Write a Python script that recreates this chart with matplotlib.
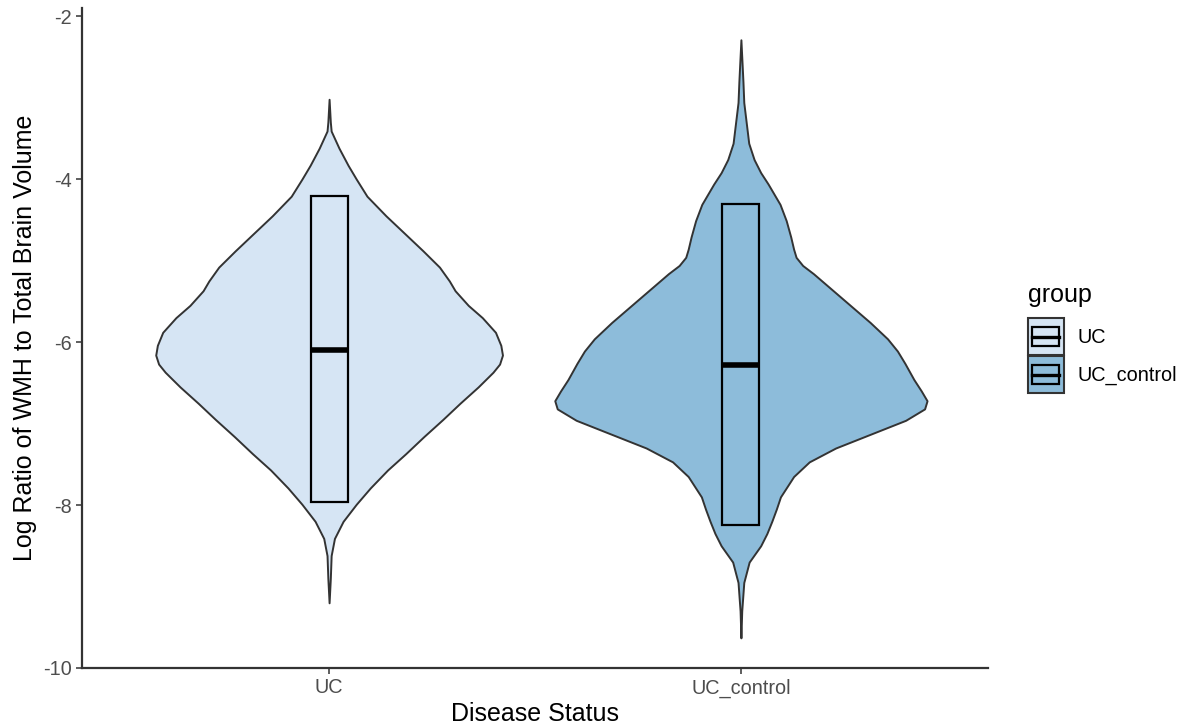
import numpy as np
import matplotlib
matplotlib.use('Agg')
import matplotlib.pyplot as plt
from matplotlib.patches import Rectangle, Patch
from matplotlib.lines import Line2D
from matplotlib.legend_handler import HandlerBase

plt.rcParams['font.family'] = ['Liberation Sans', 'DejaVu Sans']
plt.rcParams['axes.unicode_minus'] = False

groups = ['UC', 'UC_control']
fills = ['#D6E5F4', '#8DBCDA']

# violin outline: value and half-width (x units)
uc_y = [-3.02, -3.30, -3.41, -3.62, -3.83, -4.00, -4.21, -4.45, -4.66, -4.88, -5.08,
        -5.25, -5.37, -5.55, -5.70, -5.88, -6.04, -6.16, -6.27, -6.37, -6.55,
        -6.75, -6.95, -7.16, -7.37, -7.57, -7.79, -7.99, -8.20, -8.41, -8.62, -8.90, -9.20]
uc_w = [0.0, 0.003, 0.005, 0.024, 0.046, 0.066, 0.092, 0.138, 0.182, 0.228, 0.268,
        0.292, 0.306, 0.338, 0.372, 0.404, 0.417, 0.421, 0.414, 0.398, 0.362,
        0.318, 0.276, 0.230, 0.186, 0.142, 0.100, 0.066, 0.034, 0.013, 0.005, 0.003, 0.0]

ctl_y = [-2.29, -2.60, -2.81, -3.06, -3.31, -3.56, -3.76, -3.92, -4.06, -4.31, -4.51,
         -4.71, -4.86, -4.96, -5.06, -5.16, -5.36, -5.56, -5.76, -5.96, -6.11,
         -6.26, -6.46, -6.60, -6.72, -6.82, -6.96, -7.12, -7.30, -7.47, -7.65,
         -7.90, -8.05, -8.20, -8.35, -8.50, -8.70, -8.95, -9.30, -9.63]
ctl_w = [0.0, 0.003, 0.005, 0.007, 0.013, 0.019, 0.032, 0.048, 0.066, 0.095, 0.110,
         0.121, 0.128, 0.134, 0.150, 0.176, 0.222, 0.268, 0.314, 0.356, 0.380,
         0.398, 0.420, 0.438, 0.452, 0.446, 0.400, 0.320, 0.230, 0.166, 0.128,
         0.096, 0.086, 0.075, 0.063, 0.048, 0.020, 0.007, 0.002, 0.0]

box_low = [-7.96, -8.25]
box_mid = [-6.10, -6.28]
box_high = [-4.21, -4.30]

violin_y = [uc_y, ctl_y]
violin_w = [uc_w, ctl_w]

fig = plt.figure(figsize=(11.85, 7.27), dpi=100)
ax = fig.add_axes([82/1185, 59/727, 906/1185, 660/727])

for i in range(len(groups)):
    x = i + 1
    y = np.array(violin_y[i])
    w = np.array(violin_w[i])
    ax.fill_betweenx(y, x - w, x + w, facecolor=fills[i], edgecolor='#333333',
                     linewidth=1.4, zorder=2)
    bw = 0.045
    ax.add_patch(Rectangle((x - bw, box_low[i]), 2*bw, box_high[i] - box_low[i],
                           facecolor='none', edgecolor='black', linewidth=1.6, zorder=3))
    ax.plot([x - bw, x + bw], [box_mid[i], box_mid[i]], color='black', linewidth=4,
            solid_capstyle='butt', zorder=4)

ax.set_xlim(0.4, 2.6)
ax.set_ylim(-10.0, -1.9)
ax.set_xticks([1, 2])
ax.set_xticklabels(groups)
ax.set_yticks([-10, -8, -6, -4, -2])
ax.tick_params(axis='both', colors='#333333', labelcolor='#4D4D4D', labelsize=14.3,
               length=4, width=1.1)
for s in ['top', 'right']:
    ax.spines[s].set_visible(False)
for s in ['left', 'bottom']:
    ax.spines[s].set_linewidth(1.6)
    ax.spines[s].set_color('#333333')
ax.set_xlabel('Disease Status', fontsize=18, labelpad=3)
ax.set_ylabel('Log Ratio of WMH to Total Brain Volume', fontsize=18, labelpad=4)


class KeyHandler(HandlerBase):
    def create_artists(self, legend, orig_handle, xdescent, ydescent, width, height,
                       fontsize, trans):
        x0, y0 = -xdescent, -ydescent
        h = height
        outer = Rectangle((x0, y0), width, h, facecolor=orig_handle.get_facecolor(),
                          edgecolor='#333333', linewidth=1.5, transform=trans)
        inner = Rectangle((x0 + 0.12*width, y0 + 0.25*h), 0.76*width, 0.5*h,
                          facecolor='none', edgecolor='black', linewidth=1.6, transform=trans)
        med = Line2D([x0 + 0.12*width, x0 + 0.88*width], [y0 + 0.5*h, y0 + 0.5*h],
                     color='black', linewidth=2.4, transform=trans)
        return [outer, inner, med]


handles = [Patch(facecolor=c) for c in fills]
leg = fig.legend(handles, groups, loc='upper left',
                 bbox_to_anchor=(1028/1185, 1 - 318/727), frameon=False,
                 fontsize=14.3, handlelength=1.8, handleheight=2.49,
                 labelspacing=0.05, handletextpad=0.7, borderpad=0, borderaxespad=0,
                 handler_map={Patch: KeyHandler()})
fig.text(1028/1185, 1 - 295/727, 'group', fontsize=18, ha='left', va='center')

fig.savefig('out.png', dpi=100)
